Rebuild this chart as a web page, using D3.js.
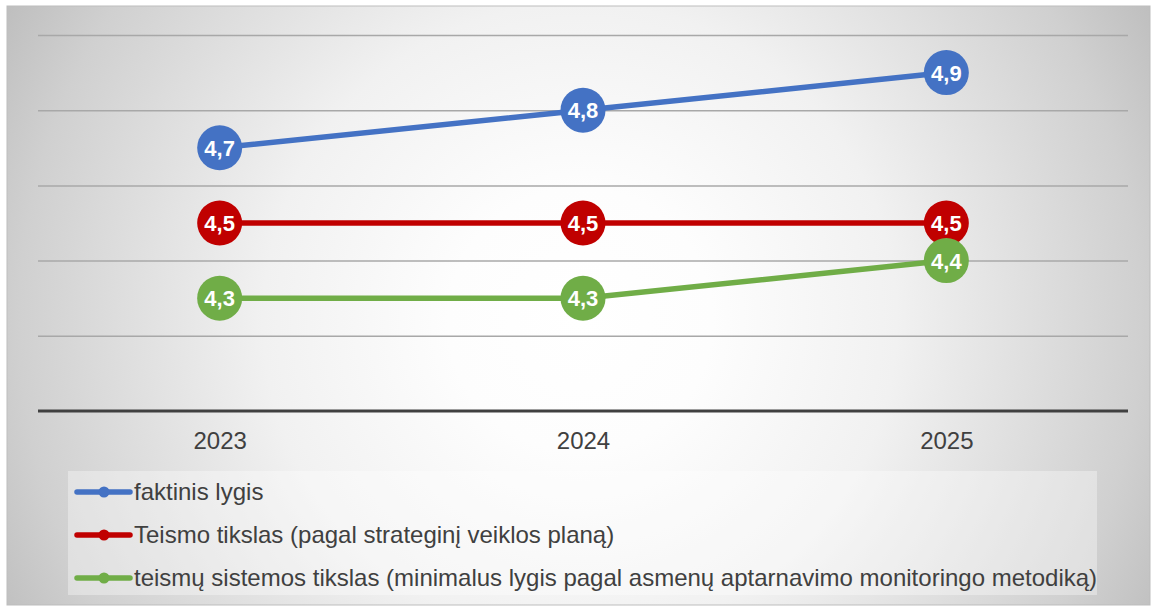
<!DOCTYPE html>
<html><head><meta charset="utf-8">
<script src="https://cdn.jsdelivr.net/npm/d3@7"></script>
<style>html,body{margin:0;padding:0;background:#fff;}svg{display:block;font-family:"Liberation Sans",Arial,sans-serif;}</style>
</head><body>
<svg id="c" width="1158" height="607"></svg>
<script>
const categories = ["2023","2024","2025"];
const seriesNames = ["faktinis lygis","Teismo tikslas (pagal strateginį veiklos planą)","teismų sistemos tikslas (minimalus lygis pagal asmenų aptarnavimo monitoringo metodiką)"];
const faktinis = [4.7, 4.8, 4.9];
const teismoTikslas = [4.5, 4.5, 4.5];
const sistemosTikslas = [4.3, 4.3, 4.4];
const yTicks = [4.0, 4.2, 4.4, 4.6, 4.8, 5.0];
const colors = ["#4472c4", "#c00000", "#70ad47"];

const series = [faktinis, teismoTikslas, sistemosTikslas].map((v,i)=>({name:seriesNames[i], values:v, color:colors[i]}));

const svg = d3.select("#c");
const defs = svg.append("defs");
const rg = defs.append("radialGradient").attr("id","bg").attr("gradientUnits","userSpaceOnUse")
  .attr("cx",580).attr("cy",320).attr("r",660);
rg.append("stop").attr("offset","0%").attr("stop-color","#ffffff");
rg.append("stop").attr("offset","20%").attr("stop-color","#fdfdfd");
rg.append("stop").attr("offset","48%").attr("stop-color","#f1f1f1");
rg.append("stop").attr("offset","85%").attr("stop-color","#d0d0d0");
rg.append("stop").attr("offset","100%").attr("stop-color","#bdbdbd");

svg.append("rect").attr("x",7).attr("y",6).attr("width",1143).attr("height",599)
  .attr("fill","url(#bg)").attr("stroke","#bdbdbd").attr("stroke-width",1);

const pLeft = 38, pRight = 1128, pTop = 35, pBottom = 411;
const x = d3.scalePoint().domain(categories).range([pLeft, pRight]).padding(0.5);
const y = d3.scaleLinear().domain([4.0, 5.0]).range([pBottom, pTop]);

// gridlines
svg.append("g").selectAll("line").data(yTicks.filter(t=>t>4.0)).join("line")
  .attr("x1",pLeft).attr("x2",pRight).attr("y1",d=>y(d)+0.5).attr("y2",d=>y(d)+0.5)
  .attr("stroke","#a8a8a8").attr("stroke-width",1.5);

// x axis
const xa = svg.append("g").attr("transform",`translate(0,${pBottom})`).call(d3.axisBottom(x).tickSize(0).tickPadding(21));
xa.select(".domain").attr("stroke","#404040").attr("stroke-width",3).attr("d",`M${pLeft},0H${pRight}`);
xa.selectAll("text").attr("font-size",24).attr("fill","#404040").attr("font-family","Liberation Sans, Arial, sans-serif");

const line = d3.line().x((d,i)=>x(categories[i])).y(d=>y(d));
const g = svg.append("g");
series.forEach(s=>{
  g.append("path").attr("d",line(s.values)).attr("fill","none").attr("stroke",s.color).attr("stroke-width",5.5).attr("stroke-linecap","round");
});
series.forEach(s=>{
  const mg = g.append("g");
  mg.selectAll("circle").data(s.values).join("circle")
    .attr("cx",(d,i)=>x(categories[i])).attr("cy",d=>y(d)).attr("r",22.5).attr("fill",s.color);
  mg.selectAll("text").data(s.values).join("text")
    .attr("x",(d,i)=>x(categories[i])).attr("y",d=>y(d)).attr("dy","0.36em")
    .attr("text-anchor","middle").attr("fill","#fff").attr("font-weight","bold").attr("font-size",22)
    .text(d=>d3.format(".1f")(d).replace(".",","));
});

// legend
const lg = svg.append("g");
lg.append("rect").attr("x",68).attr("y",471).attr("width",1029).attr("height",124).attr("fill","#ffffff").attr("fill-opacity",0.35);
series.forEach((s,i)=>{
  const ly = 492 + i*43;
  lg.append("line").attr("x1",77).attr("x2",130).attr("y1",ly).attr("y2",ly).attr("stroke",s.color).attr("stroke-width",5.5).attr("stroke-linecap","round");
  lg.append("circle").attr("cx",104).attr("cy",ly).attr("r",5.5).attr("fill",s.color);
  lg.append("text").attr("x",134).attr("y",ly).attr("dy","0.35em").attr("font-size",24).attr("fill","#404040").text(s.name);
});
</script>
</body></html>
